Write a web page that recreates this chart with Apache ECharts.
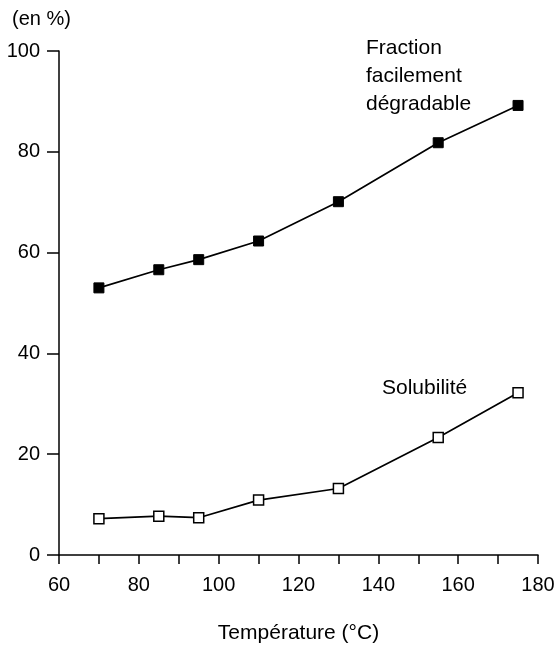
<!DOCTYPE html>
<html>
<head>
<meta charset="utf-8">
<script src="https://cdn.jsdelivr.net/npm/echarts@6/dist/echarts.min.js"></script>
<style>
  html, body { margin: 0; padding: 0; background: #fff; }
  #main { width: 556px; height: 645px; }
</style>
</head>
<body>
<div id="main"></div>
<script>
// températures (°C)
var temperatures = [70, 85, 95, 110, 130, 155, 175];
// fraction facilement dégradable (%)
var fractionDegradable = [53.0, 56.6, 58.6, 62.3, 70.1, 81.8, 89.2];
// solubilité (%)
var solubilite = [7.2, 7.7, 7.4, 10.9, 13.2, 23.3, 32.2];

var FONT = '"Liberation Sans", Arial, Helvetica, sans-serif';

function pairs(xs, ys) {
  return xs.map(function (x, i) { return [x, ys[i]]; });
}

var myChart = echarts.init(document.getElementById('main'));
myChart.setOption({
  animation: false,
  backgroundColor: '#fff',
  grid: { left: 59, right: 18, top: 51, bottom: 90, containLabel: false, outerBoundsMode: 'none' },
  xAxis: {
    type: 'value',
    min: 60,
    max: 180,
    interval: 10,
    name: 'Température (°C)',
    nameLocation: 'middle',
    nameGap: 68,
    nameTextStyle: { fontFamily: FONT, fontSize: 21, color: '#000' },
    axisLine: { lineStyle: { color: '#000', width: 1.5 } },
    axisTick: { length: 9, lineStyle: { color: '#000', width: 1.5 } },
    axisLabel: {
      margin: 20,
      fontFamily: FONT,
      fontSize: 20,
      color: '#000',
      formatter: function (v) { return v % 20 === 0 ? String(v) : ''; }
    },
    splitLine: { show: false }
  },
  yAxis: {
    type: 'value',
    min: 0,
    max: 100,
    interval: 20,
    axisLine: { show: true, lineStyle: { color: '#000', width: 1.5 } },
    axisTick: { show: true, length: 12, lineStyle: { color: '#000', width: 1.5 } },
    axisLabel: { margin: 19, fontFamily: FONT, fontSize: 20, color: '#000' },
    splitLine: { show: false }
  },
  graphic: [
    { type: 'text', left: 12, top: 9, style: { text: '(en %)', font: '20px ' + FONT, fill: '#000' } },
    { type: 'text', left: 366, top: 34, style: { text: 'Fraction\nfacilement\ndégradable', font: '21px ' + FONT, fill: '#000', lineHeight: 28 } },
    { type: 'text', left: 382, top: 378, style: { text: 'Solubilité', font: '21px ' + FONT, fill: '#000' } }
  ],
  series: [
    {
      name: 'Fraction facilement dégradable',
      type: 'line',
      data: pairs(temperatures, fractionDegradable),
      symbol: 'rect',
      symbolSize: 10,
      itemStyle: { color: '#000', borderColor: '#000', borderWidth: 1 },
      lineStyle: { color: '#000', width: 1.7 }
    },
    {
      name: 'Solubilité',
      type: 'line',
      data: pairs(temperatures, solubilite),
      symbol: 'rect',
      symbolSize: 10,
      itemStyle: { color: '#fff', borderColor: '#000', borderWidth: 1.5 },
      lineStyle: { color: '#000', width: 1.7 }
    }
  ]
});
</script>
</body>
</html>
